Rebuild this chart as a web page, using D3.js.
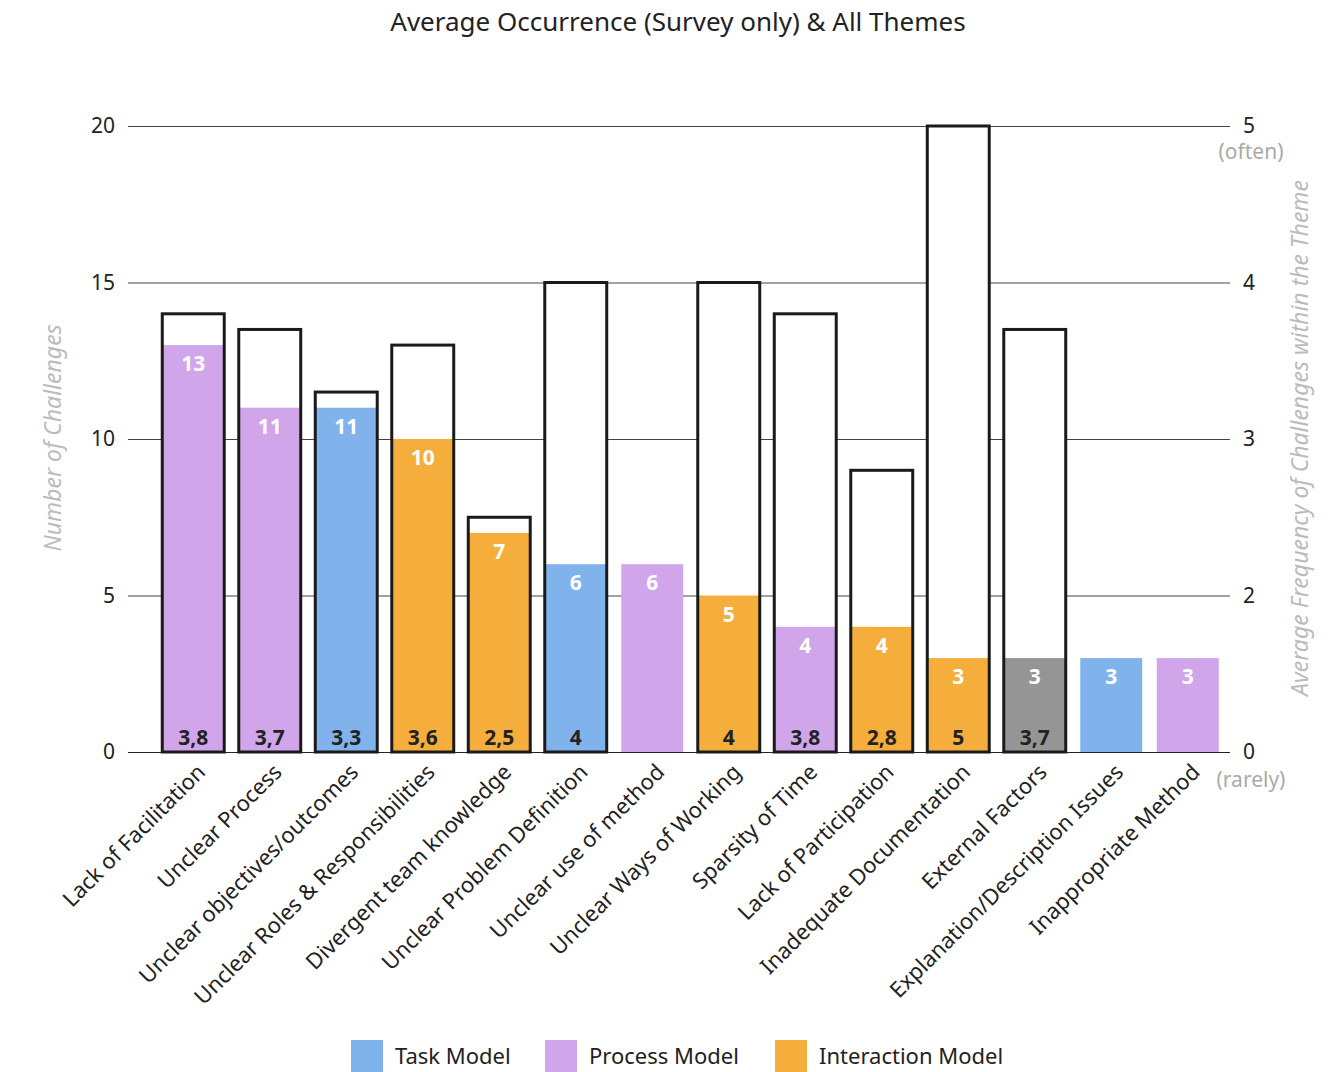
<!DOCTYPE html>
<html><head><meta charset="utf-8">
<script src="https://cdn.jsdelivr.net/npm/d3@7"></script>
<style>body{margin:0;background:#fff;} svg{display:block;font-family:"Noto Sans",sans-serif;}</style>
</head><body><svg id="c" width="1339" height="1072"></svg>
<script>
const categories = ["Lack of Facilitation","Unclear Process","Unclear objectives/outcomes","Unclear Roles & Responsibilities","Divergent team knowledge","Unclear Problem Definition","Unclear use of method","Unclear Ways of Working","Sparsity of Time","Lack of Participation","Inadequate Documentation","External Factors","Explanation/Description Issues","Inappropriate Method"];
const counts = [13,11,11,10,7,6,6,5,4,4,3,3,3,3];
const themes = ["Process","Process","Task","Interaction","Interaction","Task","Process","Interaction","Process","Interaction","Interaction","Other","Task","Process"];
const frequencies = [3.8,3.7,3.3,3.6,2.5,4,null,4,3.8,2.8,5,3.7,null,null];
const leftTicks = [0,5,10,15,20];
const rightTicks = [1,2,3,4,5];
const rightTickLabels = ["0","2","3","4","5"];
const legendItems = ["Task","Process","Interaction"];
const legendLabels = ["Task Model","Process Model","Interaction Model"];

const colors = {Task:"#80b3ec", Process:"#d0a5e9", Interaction:"#f5ae3c", Other:"#959595"};
const svg = d3.select("#c");
const x = d3.scaleBand().domain(categories).range([155,1226]).paddingInner(0.19).paddingOuter(0.095);
const y = d3.scaleLinear().domain([0,20]).range([752,126]);
const yr = d3.scaleLinear().domain([1,5]).range([752,126]);
const L = 128, R = 1230;

svg.append("text").attr("x",678).attr("y",31).attr("text-anchor","middle")
  .attr("font-size",26).attr("fill","#222").text("Average Occurrence (Survey only) & All Themes");

// grid
const g = svg.append("g");
g.selectAll("line.grid").data(leftTicks).join("line")
  .attr("x1",L).attr("x2",R).attr("y1",d=>y(d)+0.5).attr("y2",d=>y(d)+0.5)
  .attr("stroke",d=>d===0?"#222":"#444").attr("stroke-width",1);

// left axis labels
const la = svg.append("g").attr("transform",`translate(${L},0)`)
  .call(d3.axisLeft(y).tickValues(leftTicks).tickSize(0).tickPadding(13));
la.select(".domain").remove();
la.selectAll("text").attr("font-size",21).attr("fill","#222").attr("font-family","Noto Sans");

const ra = svg.append("g").attr("transform",`translate(${R},0)`)
  .call(d3.axisRight(yr).tickValues(rightTicks).tickFormat((d,i)=>rightTickLabels[i]).tickSize(0).tickPadding(13));
ra.select(".domain").remove();
ra.selectAll("text").attr("font-size",21).attr("fill","#222").attr("font-family","Noto Sans");

svg.append("text").attr("x",1251).attr("y",159).attr("text-anchor","middle").attr("font-size",21).attr("fill","#aaa").text("(often)");
svg.append("text").attr("x",1251).attr("y",787).attr("text-anchor","middle").attr("font-size",21).attr("fill","#aaa").text("(rarely)");

svg.append("text").attr("transform","translate(61,438) rotate(-90)").attr("text-anchor","middle")
  .attr("font-size",23).attr("font-style","italic").attr("fill","#bbb").text("Number of Challenges");
svg.append("text").attr("transform","translate(1308,438) rotate(-90)").attr("text-anchor","middle")
  .attr("font-size",23).attr("font-style","italic").attr("fill","#bbb").text("Average Frequency of Challenges within the Theme");

const data = categories.map((c,i)=>({c, n:counts[i], t:themes[i], f:frequencies[i]}));
const bw = x.bandwidth();

// outline background
svg.append("g").selectAll("rect").data(data.filter(d=>d.f!=null)).join("rect")
  .attr("x",d=>x(d.c)).attr("y",d=>yr(d.f)).attr("width",bw).attr("height",d=>yr(1)-yr(d.f))
  .attr("fill","#fff");
// colored
svg.append("g").selectAll("rect").data(data).join("rect")
  .attr("x",d=>x(d.c)).attr("y",d=>y(d.n)).attr("width",bw).attr("height",d=>y(0)-y(d.n))
  .attr("fill",d=>colors[d.t]);
// outline stroke
svg.append("g").selectAll("rect").data(data.filter(d=>d.f!=null)).join("rect")
  .attr("x",d=>x(d.c)).attr("y",d=>yr(d.f)).attr("width",bw).attr("height",d=>yr(1)-yr(d.f))
  .attr("fill","none").attr("stroke","#1a1a1a").attr("stroke-width",3);

// count labels
svg.append("g").selectAll("text").data(data).join("text")
  .attr("x",d=>x(d.c)+bw/2).attr("y",d=>y(d.n)+26).attr("text-anchor","middle")
  .attr("font-size",21).attr("font-weight","bold").attr("fill","#fff").text(d=>d.n);
// freq labels
svg.append("g").selectAll("text").data(data.filter(d=>d.f!=null)).join("text")
  .attr("x",d=>x(d.c)+bw/2).attr("y",745).attr("text-anchor","middle")
  .attr("font-size",21).attr("font-weight","bold").attr("fill","#222")
  .text(d=>String(d.f).replace(".",","));

// x labels
svg.append("g").selectAll("text").data(categories).join("text")
  .attr("transform",d=>`translate(${x(d)+bw/2+8},${768}) rotate(-45)`)
  .attr("text-anchor","end").attr("dy","0.35em").attr("font-size",22).attr("fill","#222").text(d=>d);

// legend
const legX = [351,545,775];
const lg = svg.append("g").selectAll("g").data(legendItems).join("g")
  .attr("transform",(d,i)=>`translate(${legX[i]},1040)`);
lg.append("rect").attr("width",32).attr("height",32).attr("fill",d=>colors[d]);
lg.append("text").attr("x",44).attr("y",24).attr("font-size",22).attr("fill","#222").text((d,i)=>legendLabels[i]);
</script></body></html>
